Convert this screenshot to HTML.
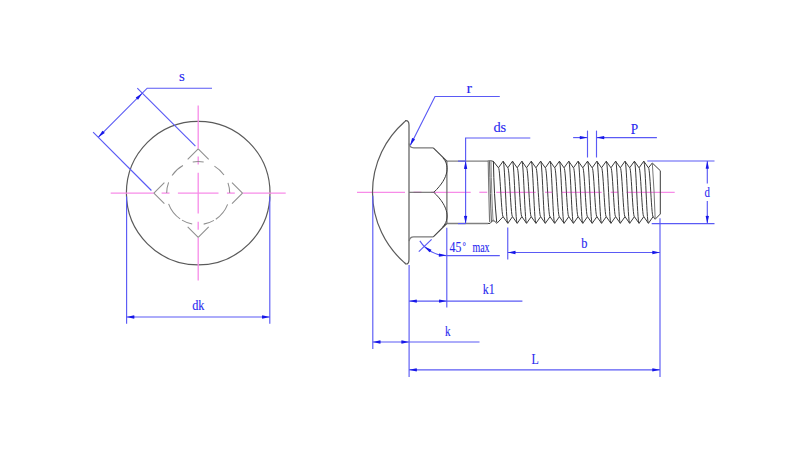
<!DOCTYPE html>
<html><head><meta charset="utf-8"><style>
html,body{margin:0;padding:0;background:#fff;width:800px;height:450px;overflow:hidden}
svg{display:block}
text{font-family:"Liberation Serif",serif}
</style></head><body>
<svg width="800" height="450" viewBox="0 0 800 450">
<rect width="800" height="450" fill="#fff"/>
<circle cx="198.2" cy="193.1" r="71.8" fill="none" stroke="#5a5a5a" stroke-width="1.2"/>
<line x1="110.7" y1="193.1" x2="153.9" y2="193.1" stroke="#f78ce8" stroke-width="1.3"/>
<line x1="198.2" y1="105.6" x2="198.2" y2="148.8" stroke="#f78ce8" stroke-width="1.3"/>
<line x1="161.6" y1="193.1" x2="169.5" y2="193.1" stroke="#f78ce8" stroke-width="1.3"/>
<line x1="198.2" y1="156.5" x2="198.2" y2="164.4" stroke="#f78ce8" stroke-width="1.3"/>
<line x1="177.9" y1="193.1" x2="218.5" y2="193.1" stroke="#f78ce8" stroke-width="1.3"/>
<line x1="198.2" y1="172.8" x2="198.2" y2="213.4" stroke="#f78ce8" stroke-width="1.3"/>
<line x1="226.9" y1="193.1" x2="234.8" y2="193.1" stroke="#f78ce8" stroke-width="1.3"/>
<line x1="198.2" y1="221.8" x2="198.2" y2="229.7" stroke="#f78ce8" stroke-width="1.3"/>
<line x1="242.5" y1="193.1" x2="285.7" y2="193.1" stroke="#f78ce8" stroke-width="1.3"/>
<line x1="198.2" y1="237.4" x2="198.2" y2="280.6" stroke="#f78ce8" stroke-width="1.3"/>
<line x1="198.2" y1="148.8" x2="187.7" y2="159.3" stroke="#8e8e8e" stroke-width="1.05"/>
<line x1="198.2" y1="148.8" x2="208.7" y2="159.3" stroke="#8e8e8e" stroke-width="1.05"/>
<line x1="153.9" y1="193.1" x2="164.4" y2="182.6" stroke="#8e8e8e" stroke-width="1.05"/>
<line x1="153.9" y1="193.1" x2="164.4" y2="203.6" stroke="#8e8e8e" stroke-width="1.05"/>
<line x1="242.5" y1="193.1" x2="232" y2="182.6" stroke="#8e8e8e" stroke-width="1.05"/>
<line x1="242.5" y1="193.1" x2="232" y2="203.6" stroke="#8e8e8e" stroke-width="1.05"/>
<line x1="198.2" y1="237.4" x2="187.7" y2="226.9" stroke="#8e8e8e" stroke-width="1.05"/>
<line x1="198.2" y1="237.4" x2="208.7" y2="226.9" stroke="#8e8e8e" stroke-width="1.05"/>
<path d="M229.7 193.1 A31.5 31.5 0 0 0 227.98 182.84" fill="none" stroke="#8e8e8e" stroke-width="1.05"/>
<path d="M224 175.03 A31.5 31.5 0 0 0 214.42 166.1" fill="none" stroke="#8e8e8e" stroke-width="1.05"/>
<path d="M203.67 162.08 A31.5 31.5 0 0 0 192.73 162.08" fill="none" stroke="#8e8e8e" stroke-width="1.05"/>
<path d="M182.93 165.55 A31.5 31.5 0 0 0 172.09 175.49" fill="none" stroke="#8e8e8e" stroke-width="1.05"/>
<path d="M168.6 182.33 A31.5 31.5 0 0 0 166.7 193.1" fill="none" stroke="#8e8e8e" stroke-width="1.05"/>
<path d="M168.6 203.87 A31.5 31.5 0 0 0 180.13 218.9" fill="none" stroke="#8e8e8e" stroke-width="1.05"/>
<path d="M181.98 220.1 A31.5 31.5 0 0 0 192.19 224.02" fill="none" stroke="#8e8e8e" stroke-width="1.05"/>
<path d="M203.67 224.12 A31.5 31.5 0 0 0 213.95 220.38" fill="none" stroke="#8e8e8e" stroke-width="1.05"/>
<path d="M215.81 219.21 A31.5 31.5 0 0 0 227.61 204.39" fill="none" stroke="#8e8e8e" stroke-width="1.05"/>
<line x1="137.3" y1="88.1" x2="195.4" y2="146.2" stroke="#5a5af5" stroke-width="1.15"/>
<line x1="93.1" y1="132.2" x2="151.4" y2="190.5" stroke="#5a5af5" stroke-width="1.15"/>
<path d="M98.2 137.3 L147.2 88.2 L212 88.2" fill="none" stroke="#5a5af5" stroke-width="1.15"/>
<path d="M142.3 93.2 L138.09 99.74 Q136.57 98.93 135.76 97.41 Z" fill="#1818e8"/>
<path d="M98.2 137.3 L102.41 130.76 Q103.93 131.57 104.74 133.09 Z" fill="#1818e8"/>
<text x="179" y="81.4" font-size="15" textLength="5.8" lengthAdjust="spacingAndGlyphs" fill="#2a2af0" stroke="#2a2af0" stroke-width="0.12">s</text>
<line x1="126.6" y1="196.4" x2="126.6" y2="323.8" stroke="#5a5af5" stroke-width="1.15"/>
<line x1="269.8" y1="196.4" x2="269.8" y2="323.8" stroke="#5a5af5" stroke-width="1.15"/>
<line x1="126.6" y1="317" x2="269.8" y2="317" stroke="#5a5af5" stroke-width="1.15"/>
<path d="M126.6 317 L134.2 315.35 Q134.7 317 134.2 318.65 Z" fill="#1818e8"/>
<path d="M269.8 317 L262.2 318.65 Q261.7 317 262.2 315.35 Z" fill="#1818e8"/>
<text x="192.2" y="310.3" font-size="15" textLength="12.2" lengthAdjust="spacingAndGlyphs" fill="#2a2af0" stroke="#2a2af0" stroke-width="0.12">dk</text>
<line x1="357" y1="192.3" x2="405" y2="192.3" stroke="#f78ce8" stroke-width="1.3"/>
<line x1="413.5" y1="192.3" x2="421.5" y2="192.3" stroke="#f78ce8" stroke-width="1.3"/>
<line x1="431.2" y1="192.3" x2="470.7" y2="192.3" stroke="#f78ce8" stroke-width="1.3"/>
<line x1="479.3" y1="192.3" x2="487.2" y2="192.3" stroke="#f78ce8" stroke-width="1.3"/>
<line x1="496.2" y1="192.3" x2="535.7" y2="192.3" stroke="#f78ce8" stroke-width="1.3"/>
<line x1="545" y1="192.3" x2="552.4" y2="192.3" stroke="#f78ce8" stroke-width="1.3"/>
<line x1="561.3" y1="192.3" x2="601.7" y2="192.3" stroke="#f78ce8" stroke-width="1.3"/>
<line x1="610.7" y1="192.3" x2="618.5" y2="192.3" stroke="#f78ce8" stroke-width="1.3"/>
<line x1="626.4" y1="192.3" x2="674.7" y2="192.3" stroke="#f78ce8" stroke-width="1.3"/>
<path d="M409 125 Q409 120.3 405.6 120.6 Q405.35 121.5 404.35 122 A93.5 93.5 0 0 0 404.35 262.6 Q405.35 263.1 405.6 264 Q409 264.3 409 259.6 Z" fill="none" stroke="#5a5a5a" stroke-width="1.2"/>
<path d="M409.2 143.5 Q409.5 147.8 413.8 147.8 L433.3 147.8" fill="none" stroke="#7a7a7a" stroke-width="1.3"/>
<path d="M433.3 147.8 L446.8 161.1" fill="none" stroke="#404040" stroke-width="1.1"/>
<path d="M446.8 161.1 L488 161.1" fill="none" stroke="#808080" stroke-width="1.3"/>
<path d="M409.2 241.1 Q409.5 236.8 413.8 236.8 L433.3 236.8" fill="none" stroke="#7a7a7a" stroke-width="1.3"/>
<path d="M433.3 236.8 L446.8 223.5" fill="none" stroke="#404040" stroke-width="1.1"/>
<path d="M446.8 223.5 L488 223.5" fill="none" stroke="#808080" stroke-width="1.3"/>
<line x1="446.9" y1="161.1" x2="446.9" y2="223.5" stroke="#6a6a6a" stroke-width="1.2"/>
<line x1="409" y1="192.3" x2="433.8" y2="192.3" stroke="#6a6a6a" stroke-width="1.1"/>
<path d="M442.8 157.8 C449.3 164.5 450 177 433.8 192.3 C450 207.6 449.3 220.1 442.8 226.8" fill="none" stroke="#3a3a3a" stroke-width="1.0"/>
<polyline points="498.44,167.8 498.77,168.41 499.11,170.22 499.44,173.13 499.78,177.01 500.11,181.64 500.45,186.81 500.78,192.25 501.12,197.69 501.45,202.86 501.79,207.49 502.12,211.37 502.46,214.28 502.79,216.09 503.12,216.7" fill="none" stroke="#3a3a3a" stroke-width="1.0" stroke-linejoin="round"/>
<polyline points="503.12,161.2 503.46,161.98 503.79,164.27 504.13,167.97 504.46,172.89 504.8,178.78 505.13,185.34 505.47,192.25 505.8,199.16 506.14,205.72 506.47,211.61 506.81,216.53 507.14,220.23 507.48,222.52 507.81,223.3" fill="none" stroke="#3a3a3a" stroke-width="1.0" stroke-linejoin="round"/>
<polyline points="507.81,167.8 508.15,168.41 508.48,170.22 508.82,173.13 509.15,177.01 509.49,181.64 509.82,186.81 510.16,192.25 510.49,197.69 510.83,202.86 511.16,207.49 511.5,211.37 511.83,214.28 512.17,216.09 512.5,216.7" fill="none" stroke="#3a3a3a" stroke-width="1.0" stroke-linejoin="round"/>
<polyline points="512.5,161.2 512.83,161.98 513.17,164.27 513.5,167.97 513.84,172.89 514.17,178.78 514.51,185.34 514.84,192.25 515.18,199.16 515.51,205.72 515.85,211.61 516.18,216.53 516.52,220.23 516.85,222.52 517.19,223.3" fill="none" stroke="#3a3a3a" stroke-width="1.0" stroke-linejoin="round"/>
<polyline points="517.19,167.8 517.52,168.41 517.86,170.22 518.19,173.13 518.53,177.01 518.86,181.64 519.2,186.81 519.53,192.25 519.87,197.69 520.2,202.86 520.54,207.49 520.87,211.37 521.21,214.28 521.54,216.09 521.88,216.7" fill="none" stroke="#3a3a3a" stroke-width="1.0" stroke-linejoin="round"/>
<polyline points="521.88,161.2 522.21,161.98 522.54,164.27 522.88,167.97 523.21,172.89 523.55,178.78 523.88,185.34 524.22,192.25 524.55,199.16 524.89,205.72 525.22,211.61 525.56,216.53 525.89,220.23 526.23,222.52 526.56,223.3" fill="none" stroke="#3a3a3a" stroke-width="1.0" stroke-linejoin="round"/>
<polyline points="526.56,167.8 526.9,168.41 527.23,170.22 527.57,173.13 527.9,177.01 528.24,181.64 528.57,186.81 528.91,192.25 529.24,197.69 529.58,202.86 529.91,207.49 530.25,211.37 530.58,214.28 530.92,216.09 531.25,216.7" fill="none" stroke="#3a3a3a" stroke-width="1.0" stroke-linejoin="round"/>
<polyline points="531.25,161.2 531.58,161.98 531.92,164.27 532.25,167.97 532.59,172.89 532.92,178.78 533.26,185.34 533.59,192.25 533.93,199.16 534.26,205.72 534.6,211.61 534.93,216.53 535.27,220.23 535.6,222.52 535.94,223.3" fill="none" stroke="#3a3a3a" stroke-width="1.0" stroke-linejoin="round"/>
<polyline points="535.94,167.8 536.27,168.41 536.61,170.22 536.94,173.13 537.28,177.01 537.61,181.64 537.95,186.81 538.28,192.25 538.62,197.69 538.95,202.86 539.29,207.49 539.62,211.37 539.96,214.28 540.29,216.09 540.62,216.7" fill="none" stroke="#3a3a3a" stroke-width="1.0" stroke-linejoin="round"/>
<polyline points="540.62,161.2 540.96,161.98 541.29,164.27 541.63,167.97 541.96,172.89 542.3,178.78 542.63,185.34 542.97,192.25 543.3,199.16 543.64,205.72 543.97,211.61 544.31,216.53 544.64,220.23 544.98,222.52 545.31,223.3" fill="none" stroke="#3a3a3a" stroke-width="1.0" stroke-linejoin="round"/>
<polyline points="545.31,167.8 545.65,168.41 545.98,170.22 546.32,173.13 546.65,177.01 546.99,181.64 547.32,186.81 547.66,192.25 547.99,197.69 548.33,202.86 548.66,207.49 549,211.37 549.33,214.28 549.67,216.09 550,216.7" fill="none" stroke="#3a3a3a" stroke-width="1.0" stroke-linejoin="round"/>
<polyline points="550,161.2 550.33,161.98 550.67,164.27 551,167.97 551.34,172.89 551.67,178.78 552.01,185.34 552.34,192.25 552.68,199.16 553.01,205.72 553.35,211.61 553.68,216.53 554.02,220.23 554.35,222.52 554.69,223.3" fill="none" stroke="#3a3a3a" stroke-width="1.0" stroke-linejoin="round"/>
<polyline points="554.69,167.8 555.02,168.41 555.36,170.22 555.69,173.13 556.03,177.01 556.36,181.64 556.7,186.81 557.03,192.25 557.37,197.69 557.7,202.86 558.04,207.49 558.37,211.37 558.71,214.28 559.04,216.09 559.38,216.7" fill="none" stroke="#3a3a3a" stroke-width="1.0" stroke-linejoin="round"/>
<polyline points="559.38,161.2 559.71,161.98 560.04,164.27 560.38,167.97 560.71,172.89 561.05,178.78 561.38,185.34 561.72,192.25 562.05,199.16 562.39,205.72 562.72,211.61 563.06,216.53 563.39,220.23 563.73,222.52 564.06,223.3" fill="none" stroke="#3a3a3a" stroke-width="1.0" stroke-linejoin="round"/>
<polyline points="564.06,167.8 564.4,168.41 564.73,170.22 565.07,173.13 565.4,177.01 565.74,181.64 566.07,186.81 566.41,192.25 566.74,197.69 567.08,202.86 567.41,207.49 567.75,211.37 568.08,214.28 568.42,216.09 568.75,216.7" fill="none" stroke="#3a3a3a" stroke-width="1.0" stroke-linejoin="round"/>
<polyline points="568.75,161.2 569.08,161.98 569.42,164.27 569.75,167.97 570.09,172.89 570.42,178.78 570.76,185.34 571.09,192.25 571.43,199.16 571.76,205.72 572.1,211.61 572.43,216.53 572.77,220.23 573.1,222.52 573.44,223.3" fill="none" stroke="#3a3a3a" stroke-width="1.0" stroke-linejoin="round"/>
<polyline points="573.44,167.8 573.77,168.41 574.11,170.22 574.44,173.13 574.78,177.01 575.11,181.64 575.45,186.81 575.78,192.25 576.12,197.69 576.45,202.86 576.79,207.49 577.12,211.37 577.46,214.28 577.79,216.09 578.12,216.7" fill="none" stroke="#3a3a3a" stroke-width="1.0" stroke-linejoin="round"/>
<polyline points="578.12,161.2 578.46,161.98 578.79,164.27 579.13,167.97 579.46,172.89 579.8,178.78 580.13,185.34 580.47,192.25 580.8,199.16 581.14,205.72 581.47,211.61 581.81,216.53 582.14,220.23 582.48,222.52 582.81,223.3" fill="none" stroke="#3a3a3a" stroke-width="1.0" stroke-linejoin="round"/>
<polyline points="582.81,167.8 583.15,168.41 583.48,170.22 583.82,173.13 584.15,177.01 584.49,181.64 584.82,186.81 585.16,192.25 585.49,197.69 585.83,202.86 586.16,207.49 586.5,211.37 586.83,214.28 587.17,216.09 587.5,216.7" fill="none" stroke="#3a3a3a" stroke-width="1.0" stroke-linejoin="round"/>
<polyline points="587.5,161.2 587.83,161.98 588.17,164.27 588.5,167.97 588.84,172.89 589.17,178.78 589.51,185.34 589.84,192.25 590.18,199.16 590.51,205.72 590.85,211.61 591.18,216.53 591.52,220.23 591.85,222.52 592.19,223.3" fill="none" stroke="#3a3a3a" stroke-width="1.0" stroke-linejoin="round"/>
<polyline points="592.19,167.8 592.52,168.41 592.86,170.22 593.19,173.13 593.53,177.01 593.86,181.64 594.2,186.81 594.53,192.25 594.87,197.69 595.2,202.86 595.54,207.49 595.87,211.37 596.21,214.28 596.54,216.09 596.88,216.7" fill="none" stroke="#3a3a3a" stroke-width="1.0" stroke-linejoin="round"/>
<polyline points="596.88,161.2 597.21,161.98 597.54,164.27 597.88,167.97 598.21,172.89 598.55,178.78 598.88,185.34 599.22,192.25 599.55,199.16 599.89,205.72 600.22,211.61 600.56,216.53 600.89,220.23 601.23,222.52 601.56,223.3" fill="none" stroke="#3a3a3a" stroke-width="1.0" stroke-linejoin="round"/>
<polyline points="601.56,167.8 601.9,168.41 602.23,170.22 602.57,173.13 602.9,177.01 603.24,181.64 603.57,186.81 603.91,192.25 604.24,197.69 604.58,202.86 604.91,207.49 605.25,211.37 605.58,214.28 605.92,216.09 606.25,216.7" fill="none" stroke="#3a3a3a" stroke-width="1.0" stroke-linejoin="round"/>
<polyline points="606.25,161.2 606.58,161.98 606.92,164.27 607.25,167.97 607.59,172.89 607.92,178.78 608.26,185.34 608.59,192.25 608.93,199.16 609.26,205.72 609.6,211.61 609.93,216.53 610.27,220.23 610.6,222.52 610.94,223.3" fill="none" stroke="#3a3a3a" stroke-width="1.0" stroke-linejoin="round"/>
<polyline points="610.94,167.8 611.27,168.41 611.61,170.22 611.94,173.13 612.28,177.01 612.61,181.64 612.95,186.81 613.28,192.25 613.62,197.69 613.95,202.86 614.29,207.49 614.62,211.37 614.96,214.28 615.29,216.09 615.62,216.7" fill="none" stroke="#3a3a3a" stroke-width="1.0" stroke-linejoin="round"/>
<polyline points="615.62,161.2 615.96,161.98 616.29,164.27 616.63,167.97 616.96,172.89 617.3,178.78 617.63,185.34 617.97,192.25 618.3,199.16 618.64,205.72 618.97,211.61 619.31,216.53 619.64,220.23 619.98,222.52 620.31,223.3" fill="none" stroke="#3a3a3a" stroke-width="1.0" stroke-linejoin="round"/>
<polyline points="620.31,167.8 620.65,168.41 620.98,170.22 621.32,173.13 621.65,177.01 621.99,181.64 622.32,186.81 622.66,192.25 622.99,197.69 623.33,202.86 623.66,207.49 624,211.37 624.33,214.28 624.67,216.09 625,216.7" fill="none" stroke="#3a3a3a" stroke-width="1.0" stroke-linejoin="round"/>
<polyline points="625,161.2 625.33,161.98 625.67,164.27 626,167.97 626.34,172.89 626.67,178.78 627.01,185.34 627.34,192.25 627.68,199.16 628.01,205.72 628.35,211.61 628.68,216.53 629.02,220.23 629.35,222.52 629.69,223.3" fill="none" stroke="#3a3a3a" stroke-width="1.0" stroke-linejoin="round"/>
<polyline points="629.69,167.8 630.02,168.41 630.36,170.22 630.69,173.13 631.03,177.01 631.36,181.64 631.7,186.81 632.03,192.25 632.37,197.69 632.7,202.86 633.04,207.49 633.37,211.37 633.71,214.28 634.04,216.09 634.38,216.7" fill="none" stroke="#3a3a3a" stroke-width="1.0" stroke-linejoin="round"/>
<polyline points="634.38,161.2 634.71,161.98 635.04,164.27 635.38,167.97 635.71,172.89 636.05,178.78 636.38,185.34 636.72,192.25 637.05,199.16 637.39,205.72 637.72,211.61 638.06,216.53 638.39,220.23 638.73,222.52 639.06,223.3" fill="none" stroke="#3a3a3a" stroke-width="1.0" stroke-linejoin="round"/>
<polyline points="639.06,167.8 639.4,168.41 639.73,170.22 640.07,173.13 640.4,177.01 640.74,181.64 641.07,186.81 641.41,192.25 641.74,197.69 642.08,202.86 642.41,207.49 642.75,211.37 643.08,214.28 643.42,216.09 643.75,216.7" fill="none" stroke="#3a3a3a" stroke-width="1.0" stroke-linejoin="round"/>
<polyline points="643.75,161.2 644.08,161.98 644.42,164.27 644.75,167.97 645.09,172.89 645.42,178.78 645.76,185.34 646.09,192.25 646.43,199.16 646.76,205.72 647.1,211.61 647.43,216.53 647.77,220.23 648.1,222.52 648.44,223.3" fill="none" stroke="#3a3a3a" stroke-width="1.0" stroke-linejoin="round"/>
<polyline points="648.44,167.8 648.77,168.41 649.11,170.22 649.44,173.13 649.78,177.01 650.11,181.64 650.45,186.81 650.78,192.25 651.12,197.69 651.45,202.86 651.79,207.49 652.12,211.37 652.46,214.28 652.79,216.09 653.12,216.7" fill="none" stroke="#3a3a3a" stroke-width="1.0" stroke-linejoin="round"/>
<polyline points="493.4,161.4 498.44,167.8 503.12,161.2 507.81,167.8 512.5,161.2 517.19,167.8 521.88,161.2 526.56,167.8 531.25,161.2 535.94,167.8 540.62,161.2 545.31,167.8 550,161.2 554.69,167.8 559.38,161.2 564.06,167.8 568.75,161.2 573.44,167.8 578.12,161.2 582.81,167.8 587.5,161.2 592.19,167.8 596.88,161.2 601.56,167.8 606.25,161.2 610.94,167.8 615.62,161.2 620.31,167.8 625,161.2 629.69,167.8 634.38,161.2 639.06,167.8 643.75,161.2 648.44,167.8 652.3,163 660.3,170.7 660.3,214 655.2,219.2 653.1,216.6" fill="none" stroke="#3a3a3a" stroke-width="1.0" stroke-linejoin="round"/>
<polyline points="488,223.4 490.1,223.4 493.25,220 496.9,223.3 503.12,216.7 507.81,223.3 512.5,216.7 517.19,223.3 521.88,216.7 526.56,223.3 531.25,216.7 535.94,223.3 540.62,216.7 545.31,223.3 550,216.7 554.69,223.3 559.38,216.7 564.06,223.3 568.75,216.7 573.44,223.3 578.12,216.7 582.81,223.3 587.5,216.7 592.19,223.3 596.88,216.7 601.56,223.3 606.25,216.7 610.94,223.3 615.62,216.7 620.31,223.3 625,216.7 629.69,223.3 634.38,216.7 639.06,223.3 643.75,216.7 648.44,223.3 653.1,216.6" fill="none" stroke="#3a3a3a" stroke-width="1.0" stroke-linejoin="round"/>
<path d="M652.3 163 Q654.3 191 655.2 219.2" fill="none" stroke="#777" stroke-width="1.0"/>
<path d="M487.8 161 Q491 160.3 493.4 161.4" fill="none" stroke="#444" stroke-width="1"/>
<path d="M488.2 161.2 Q488.8 195 489.6 222" fill="none" stroke="#777" stroke-width="1.1"/>
<path d="M489.6 161.2 Q490.2 195 491.4 222" fill="none" stroke="#555" stroke-width="1.0"/>
<path d="M491 161.2 Q491.6 195 493.1 222" fill="none" stroke="#888" stroke-width="1.0"/>
<path d="M493.4 161.2 Q494 195 496.7 222" fill="none" stroke="#333" stroke-width="1.0"/>
<path d="M499.8 96.5 L435 96.5 L410.4 145.2" fill="none" stroke="#5a5af5" stroke-width="1.15"/>
<path d="M410.1 145.6 L412.07 138.08 Q413.76 138.38 415.01 139.57 Z" fill="#1818e8"/>
<text x="466.4" y="92.6" font-size="15" textLength="5.5" lengthAdjust="spacingAndGlyphs" fill="#2a2af0" stroke="#2a2af0" stroke-width="0.12">r</text>
<path d="M530.3 138 L465.6 138 L465.6 223.6" fill="none" stroke="#5a5af5" stroke-width="1.15"/>
<line x1="458" y1="161.1" x2="465.6" y2="161.1" stroke="#5a5af5" stroke-width="1.15"/>
<line x1="458" y1="223.6" x2="465.6" y2="223.6" stroke="#5a5af5" stroke-width="1.15"/>
<path d="M465.6 161.1 L467.25 168.7 Q465.6 169.2 463.95 168.7 Z" fill="#1818e8"/>
<path d="M465.6 223.5 L463.95 215.9 Q465.6 215.4 467.25 215.9 Z" fill="#1818e8"/>
<text x="493.4" y="131.7" font-size="15" textLength="12.8" lengthAdjust="spacingAndGlyphs" fill="#2a2af0" stroke="#2a2af0" stroke-width="0.12">ds</text>
<line x1="587.5" y1="130.6" x2="587.5" y2="157.5" stroke="#5a5af5" stroke-width="1.15"/>
<line x1="596.5" y1="130.6" x2="596.5" y2="157.5" stroke="#5a5af5" stroke-width="1.15"/>
<line x1="573.1" y1="137.6" x2="587.5" y2="137.6" stroke="#5a5af5" stroke-width="1.15"/>
<line x1="596.5" y1="137.6" x2="656.9" y2="137.6" stroke="#5a5af5" stroke-width="1.15"/>
<path d="M587.5 137.6 L579.9 139.25 Q579.4 137.6 579.9 135.95 Z" fill="#1818e8"/>
<path d="M596.5 137.6 L604.1 135.95 Q604.6 137.6 604.1 139.25 Z" fill="#1818e8"/>
<text x="630.8" y="134" font-size="15" textLength="7.4" lengthAdjust="spacingAndGlyphs" fill="#2a2af0" stroke="#2a2af0" stroke-width="0.12">P</text>
<line x1="647.3" y1="161" x2="714.5" y2="161" stroke="#5a5af5" stroke-width="1.15"/>
<line x1="651.7" y1="223.6" x2="714.5" y2="223.6" stroke="#5a5af5" stroke-width="1.15"/>
<line x1="707.3" y1="161" x2="707.3" y2="183.6" stroke="#5a5af5" stroke-width="1.15"/>
<line x1="707.3" y1="201" x2="707.3" y2="223.6" stroke="#5a5af5" stroke-width="1.15"/>
<path d="M707.3 161 L708.95 168.6 Q707.3 169.1 705.65 168.6 Z" fill="#1818e8"/>
<path d="M707.3 223.6 L705.65 216 Q707.3 215.5 708.95 216 Z" fill="#1818e8"/>
<text x="704.5" y="197.2" font-size="15" textLength="5.4" lengthAdjust="spacingAndGlyphs" fill="#2a2af0" stroke="#2a2af0" stroke-width="0.12">d</text>
<line x1="446.8" y1="227.8" x2="446.8" y2="307.5" stroke="#5a5af5" stroke-width="1.15"/>
<line x1="446.8" y1="255.6" x2="499.8" y2="255.6" stroke="#5a5af5" stroke-width="1.15"/>
<line x1="418.8" y1="251.6" x2="431.6" y2="239.3" stroke="#5a5af5" stroke-width="1.15"/>
<path d="M419.84 240.84 A32 32 0 0 0 446.8 255.6" fill="none" stroke="#5a5af5" stroke-width="1.15"/>
<path d="M424.4 246.4 L431.47 249.64 Q430.88 251.26 429.49 252.28 Z" fill="#1818e8"/>
<path d="M446.6 255.6 L438.93 256.87 Q438.51 255.2 439.09 253.57 Z" fill="#1818e8"/>
<text x="449.6" y="252.3" font-size="15" textLength="11.8" lengthAdjust="spacingAndGlyphs" fill="#2a2af0" stroke="#2a2af0" stroke-width="0.12">45</text>
<text x="462.6" y="249.6" font-size="10" textLength="3.4" lengthAdjust="spacingAndGlyphs" fill="#2a2af0" stroke="#2a2af0" stroke-width="0.12">°</text>
<text x="472.4" y="252.3" font-size="15" textLength="17.2" lengthAdjust="spacingAndGlyphs" fill="#2a2af0" stroke="#2a2af0" stroke-width="0.12">max</text>
<line x1="507.75" y1="227.5" x2="507.75" y2="259.4" stroke="#5a5af5" stroke-width="1.15"/>
<line x1="507.75" y1="252.5" x2="660" y2="252.5" stroke="#5a5af5" stroke-width="1.15"/>
<path d="M507.75 252.5 L515.35 250.85 Q515.85 252.5 515.35 254.15 Z" fill="#1818e8"/>
<path d="M660 252.5 L652.4 254.15 Q651.9 252.5 652.4 250.85 Z" fill="#1818e8"/>
<text x="581.2" y="248" font-size="15" textLength="6.2" lengthAdjust="spacingAndGlyphs" fill="#2a2af0" stroke="#2a2af0" stroke-width="0.12">b</text>
<line x1="372.8" y1="195.7" x2="372.8" y2="349" stroke="#5a5af5" stroke-width="1.15"/>
<line x1="409.1" y1="265" x2="409.1" y2="377" stroke="#5a5af5" stroke-width="1.15"/>
<line x1="660" y1="218.3" x2="660" y2="377" stroke="#5a5af5" stroke-width="1.15"/>
<line x1="409.1" y1="301.1" x2="522.4" y2="301.1" stroke="#5a5af5" stroke-width="1.15"/>
<path d="M409.1 301.1 L416.7 299.45 Q417.2 301.1 416.7 302.75 Z" fill="#1818e8"/>
<path d="M446.8 301.1 L439.2 302.75 Q438.7 301.1 439.2 299.45 Z" fill="#1818e8"/>
<text x="482.7" y="294.4" font-size="15" textLength="11.9" lengthAdjust="spacingAndGlyphs" fill="#2a2af0" stroke="#2a2af0" stroke-width="0.12">k1</text>
<line x1="372.8" y1="342" x2="479.5" y2="342" stroke="#5a5af5" stroke-width="1.15"/>
<path d="M372.8 342 L380.4 340.35 Q380.9 342 380.4 343.65 Z" fill="#1818e8"/>
<path d="M409.1 342 L401.5 343.65 Q401 342 401.5 340.35 Z" fill="#1818e8"/>
<text x="445" y="336" font-size="15.5" textLength="5.5" lengthAdjust="spacingAndGlyphs" fill="#2a2af0" stroke="#2a2af0" stroke-width="0.12">k</text>
<line x1="409.1" y1="369.8" x2="660" y2="369.8" stroke="#5a5af5" stroke-width="1.15"/>
<path d="M409.1 369.8 L416.7 368.15 Q417.2 369.8 416.7 371.45 Z" fill="#1818e8"/>
<path d="M660 369.8 L652.4 371.45 Q651.9 369.8 652.4 368.15 Z" fill="#1818e8"/>
<text x="531.5" y="363.8" font-size="15" textLength="7.3" lengthAdjust="spacingAndGlyphs" fill="#2a2af0" stroke="#2a2af0" stroke-width="0.12">L</text>
</svg></body></html>
